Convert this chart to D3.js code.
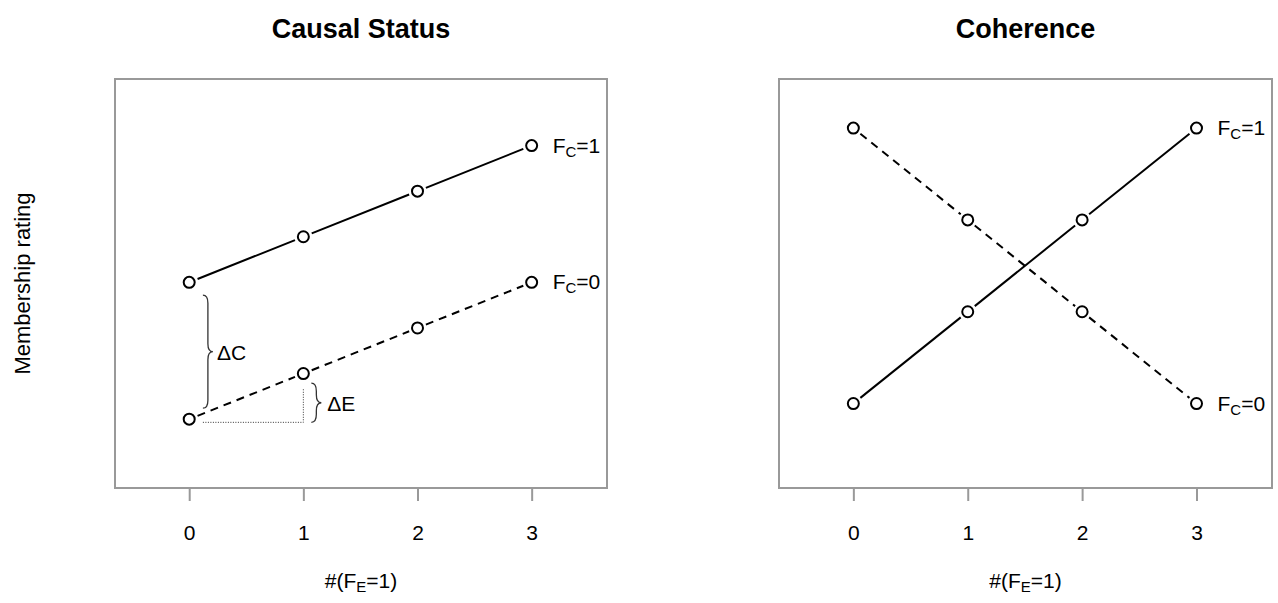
<!DOCTYPE html>
<html>
<head>
<meta charset="utf-8">
<script src="https://cdn.jsdelivr.net/npm/d3@7"></script>
<style>
  body { margin: 0; background: #fff; }
  text { font-family: "Liberation Sans", Arial, sans-serif; fill: #000; }
</style>
</head>
<body>
<svg id="chart" width="1278" height="603"></svg>
<script>
// data
var xVals = [0, 1, 2, 3];
var xTicks = ["0", "1", "2", "3"];
var causalFc1 = [3, 4, 5, 6];
var causalFc0 = [0, 1, 2, 3];
var coherenceFc1 = [0, 2, 4, 6];
var coherenceFc0 = [6, 4, 2, 0];
var panelTitles = ["Causal Status", "Coherence"];
var seriesNames = ["1", "0"];

var svg = d3.select("#chart");

var panels = [
  {title: panelTitles[0], left: 115, right: 607, yDomain: [-1.51, 7.46], s1: causalFc1, s0: causalFc0},
  {title: panelTitles[1], left: 779, right: 1272, yDomain: [-1.84, 7.07], s1: coherenceFc1, s0: coherenceFc0}
];
var plotTop = 79, plotBottom = 488;

// draws line segments between points, leaving a gap round each circle
function drawSeries(g, x, y, vals, dash) {
  var pts = xVals.map(function(d, i) { return [x(d), y(vals[i])]; });
  var gap = 9;
  for (var i = 0; i < pts.length - 1; i++) {
    var a = pts[i], b = pts[i + 1];
    var dx = b[0] - a[0], dy = b[1] - a[1], len = Math.sqrt(dx * dx + dy * dy);
    var ux = dx / len, uy = dy / len;
    g.append("line")
      .attr("x1", a[0] + ux * gap).attr("y1", a[1] + uy * gap)
      .attr("x2", b[0] - ux * gap).attr("y2", b[1] - uy * gap)
      .style("stroke", "#000")
      .style("stroke-width", 2)
      .style("stroke-dasharray", dash ? "8,6" : null);
  }
  g.selectAll(null)
    .data(pts)
    .enter()
    .append("circle")
    .attr("cx", function(d) { return d[0]; })
    .attr("cy", function(d) { return d[1]; })
    .attr("r", 5.5)
    .style("fill", "none")
    .style("stroke", "#000")
    .style("stroke-width", 2);
}

function fcLabel(g, px, py, val) {
  var t = g.append("text")
    .attr("x", px + 21)
    .attr("y", py + 7)
    .style("font-size", "21px");
  t.append("tspan").text("F");
  t.append("tspan").attr("dy", 4).style("font-size", "15px").text("C");
  t.append("tspan").attr("dy", -4).text("=" + val);
}

// vertical curly brace pointing right
function brace(g, x, y1, y2, w) {
  var m = (y1 + y2) / 2, h = w / 2, r = 8;
  var p = "M" + x + "," + y1 +
    " Q" + (x + h) + "," + y1 + " " + (x + h) + "," + (y1 + r) +
    " L" + (x + h) + "," + (m - r) +
    " Q" + (x + h) + "," + m + " " + (x + w) + "," + m +
    " Q" + (x + h) + "," + m + " " + (x + h) + "," + (m + r) +
    " L" + (x + h) + "," + (y2 - r) +
    " Q" + (x + h) + "," + y2 + " " + x + "," + y2;
  g.append("path").attr("d", p)
    .style("fill", "none").style("stroke", "#333").style("stroke-width", 1.3);
}

panels.forEach(function(p, pi) {
  var x = d3.scaleLinear().domain([-0.65, 3.66]).range([p.left, p.right]);
  var y = d3.scaleLinear().domain(p.yDomain).range([plotBottom, plotTop]);
  var g = svg.append("g");

  // title
  g.append("text")
    .attr("x", (p.left + p.right) / 2)
    .attr("y", 38)
    .attr("text-anchor", "middle")
    .style("font-size", "27px")
    .style("font-weight", "bold")
    .text(p.title);

  // box
  g.append("rect")
    .attr("x", p.left).attr("y", plotTop)
    .attr("width", p.right - p.left).attr("height", plotBottom - plotTop)
    .style("fill", "none").style("stroke", "#999").style("stroke-width", 2);

  // x axis
  var ax = g.append("g")
    .attr("transform", "translate(0," + plotBottom + ")")
    .call(d3.axisBottom(x).tickValues(xVals).tickFormat(function(d, i) { return xTicks[i]; })
      .tickSize(13).tickPadding(24));
  ax.select(".domain").remove();
  ax.selectAll("line").style("stroke", "#999").style("stroke-width", 2);
  ax.selectAll("text").style("font-size", "21px").style("font-family", "Liberation Sans, Arial, sans-serif");

  // x label
  var xl = g.append("text")
    .attr("x", (p.left + p.right) / 2)
    .attr("y", 588)
    .attr("text-anchor", "middle")
    .style("font-size", "21px");
  xl.append("tspan").text("#(F");
  xl.append("tspan").attr("dy", 4).style("font-size", "15px").text("E");
  xl.append("tspan").attr("dy", -4).text("=1)");

  drawSeries(g, x, y, p.s1, false);
  drawSeries(g, x, y, p.s0, true);

  fcLabel(g, x(3), y(p.s1[3]), seriesNames[0]);
  fcLabel(g, x(3), y(p.s0[3]), seriesNames[1]);

  if (pi === 0) {
    // annotations for the causal status panel
    brace(g, x(0.12), y(2.72), y(0.24), 10);
    g.append("text").attr("x", x(0.12) + 14).attr("y", y(1.48) + 8)
      .style("font-size", "21px").text("\u0394C");
    brace(g, x(1.07), y(0.79), y(-0.07), 10);
    g.append("text").attr("x", x(1.07) + 16).attr("y", y(0.36) + 8)
      .style("font-size", "21px").text("\u0394E");
    g.append("path")
      .attr("d", "M" + x(0.12) + "," + y(-0.07) + " L" + x(1) + "," + y(-0.07) + " L" + x(1) + "," + y(0.68))
      .style("fill", "none").style("stroke", "#333").style("stroke-width", 1)
      .style("stroke-dasharray", "1,1.5");
  }
});

// y label
svg.append("text")
  .attr("transform", "translate(30," + ((plotTop + plotBottom) / 2) + ") rotate(-90)")
  .attr("text-anchor", "middle")
  .style("font-size", "22px")
  .text("Membership rating");
</script>
</body>
</html>
